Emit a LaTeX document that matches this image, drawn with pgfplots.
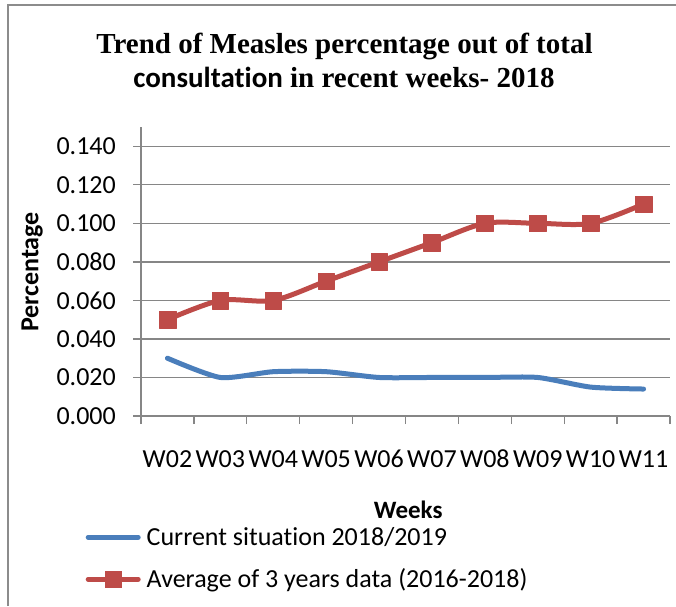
\documentclass[border=0pt]{standalone}
\usepackage{fontspec}
\setmainfont{Carlito}[Ligatures=NoCommon]
\newfontfamily\timesfont{Liberation Serif}
\usepackage{pgfplots}
\pgfplotsset{compat=1.18}
\definecolor{gridgray}{HTML}{868686}
\definecolor{bordergray}{HTML}{8C8C8C}
\definecolor{xlblue}{HTML}{4A7EBB}
\definecolor{xlred}{HTML}{BE4B48}
\begin{document}
\begin{tikzpicture}[x=1pt,y=1pt]
\useasboundingbox (0,0) rectangle (676,606);
\draw[bordergray, line width=2pt] (8,0) -- (8,601) -- (676,601);
\node[anchor=base, inner sep=0pt, font=\fontsize{29}{34}\selectfont\timesfont\bfseries] at (344.5,552) {Trend of Measles percentage out of total};
\node[anchor=base, inner sep=0pt, font=\fontsize{29}{34}\selectfont\bfseries] at (344,518) {consultation{\timesfont\ in recent weeks- 2018}};
\begin{axis}[
  at={(141pt,190pt)}, anchor=south west,
  scale only axis, width=529pt, height=289pt,
  xmin=0.5, xmax=10.5, ymin=0, ymax=0.15,
  clip=false,
  axis x line=bottom, axis y line=left,
  axis line style={gridgray, line width=1.3pt, -},
  xtick={1,2,3,4,5,6,7,8,9,10},
  xticklabels={W02,W03,W04,W05,W06,W07,W08,W09,W10,W11},
  every major x tick/.append style={draw=none},
  minor xtick={0.5,1.5,2.5,3.5,4.5,5.5,6.5,7.5,8.5,9.5,10.5},
  ytick={0,0.02,0.04,0.06,0.08,0.1,0.12,0.14},
  yticklabels={0.000,0.020,0.040,0.060,0.080,0.100,0.120,0.140},
  tick align=outside, major tick length=8pt, minor tick length=8pt,
  every tick/.style={gridgray, line width=1.3pt},
  ymajorgrids, grid style={gridgray, line width=1.3pt},
  tick label style={font=\fontsize{26}{31}\selectfont},
  xticklabel style={anchor=base, yshift=-43pt, inner sep=0pt},
  yticklabel style={anchor=east, xshift=-17pt, inner sep=0pt},
  xlabel={Weeks},
  xlabel style={at={(axis description cs:0.505,-0.353)}, anchor=base, inner sep=0pt, font=\fontsize{25}{30}\selectfont\bfseries},
  ylabel={Percentage},
  ylabel style={at={(axis description cs:-0.206,0.498)}, anchor=center, inner sep=0pt, font=\fontsize{26}{31}\selectfont\bfseries},
  legend style={at={(axis description cs:-0.1049,-0.3737)}, anchor=north west, draw=none, fill=none, inner sep=0pt, row sep=16pt, column sep=5pt, font=\fontsize{26}{31}\selectfont, nodes={inner sep=1pt, text height=20pt, text depth=4pt}},
  legend cell align=left,
  legend image code/.code={\draw[mark repeat=2, mark phase=2, #1] plot coordinates {(0pt,0pt) (25pt,0pt) (50pt,0pt)};},
]
\addplot[xlblue, line width=5pt, line cap=round, line join=round, smooth, tension=0.4, no markers]
  coordinates {(1,0.030) (2,0.020) (3,0.023) (4,0.023) (5,0.020) (6,0.020) (7,0.020) (8,0.020) (9,0.015) (10,0.014)};
\addlegendentry{Current situation 2018/2019}
\addplot[xlred, line width=5pt, line cap=round, line join=round, smooth, mark=square*, mark size=8.3pt, mark options={solid, line width=0.4pt, fill=xlred, draw=xlred}]
  coordinates {(1,0.050) (2,0.060) (3,0.060) (4,0.070) (5,0.080) (6,0.090) (7,0.100) (8,0.100) (9,0.100) (10,0.110)};
\addlegendentry{Average of 3 years data (2016-2018)}
\end{axis}
\end{tikzpicture}
\end{document}
